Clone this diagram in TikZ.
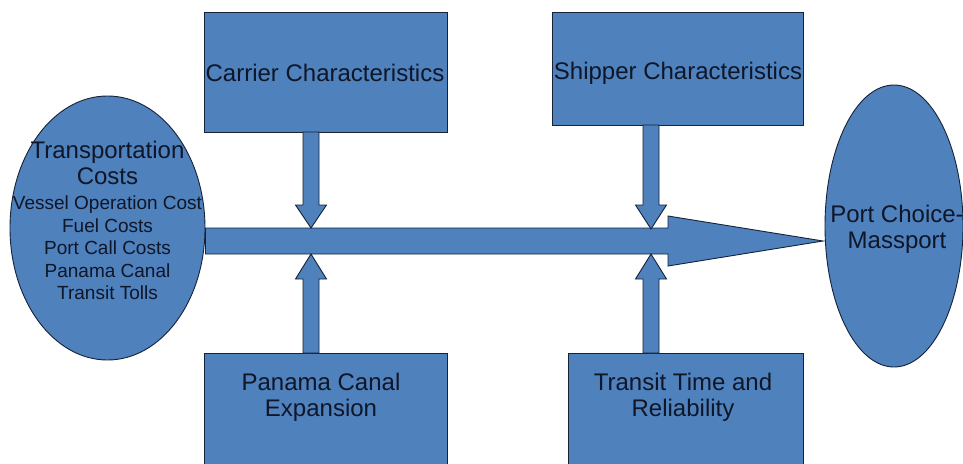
\documentclass[tikz,border=0pt]{standalone}
\usepackage{fontspec}
\setmainfont{Liberation Sans}
\usetikzlibrary{shapes.geometric,calc}
\definecolor{shapefill}{RGB}{79,129,189}
\definecolor{shapeline}{RGB}{22,34,56}
\definecolor{labeltext}{RGB}{14,22,40}
\tikzset{
  shapebase/.style={draw=shapeline, fill=shapefill, line width=0.9pt},
  boxnode/.style={shapebase, rectangle, inner sep=0pt},
  ellnode/.style={shapebase, ellipse, inner sep=0pt},
  bigtext/.style={text=labeltext, align=center, inner sep=0pt, font=\fontsize{24}{26}\selectfont},
  smalltext/.style={text=labeltext, align=center, inner sep=0pt, font=\fontsize{19}{22.5}\selectfont},
  blockarrow/.style={shapebase, line join=miter}
}
% vertical block arrow: x centre, start y, tip y, head length (signed)
\newcommand\myvarrow[4]{%
  \draw[blockarrow] (#1-8,#2) -- (#1-8,#3-#4) -- (#1-15.5,#3-#4) -- (#1,#3)
    -- (#1+15.5,#3-#4) -- (#1+8,#3-#4) -- (#1+8,#2) -- cycle;}
\begin{document}
\begin{tikzpicture}[x=1pt,y=-1pt]
\useasboundingbox (0,0) rectangle (963,463);
\clip (0,0) rectangle (963,463);
\fill[white] (0,0) rectangle (963,463);

% nodes
\node[ellnode, minimum width=195pt, minimum height=264pt] (lc) at (107.5,228) {};
\node[ellnode, minimum width=138pt, minimum height=282pt] (rc) at (894,226) {};
\node[boxnode, minimum width=243pt, minimum height=120pt] (carrier) at (325.5,72) {};
\node[boxnode, minimum width=251pt, minimum height=113pt] (shipper) at (677.5,68.5) {};
\node[boxnode, minimum width=243pt, minimum height=137pt] (panama) at (325.5,421.5) {};
\node[boxnode, minimum width=235pt, minimum height=137pt] (transit) at (685.5,421.5) {};

% main block arrow
\coordinate (tail) at (lc.east |- 0,241);
\coordinate (tip) at (823,241);
\draw[blockarrow] ($(tail)+(0,-13)$) -- (668,228) -- (668,216) -- (tip)
  -- (668,266) -- (668,254) -- ($(tail)+(0,13)$) -- cycle;

% vertical arrows
\myvarrow{311}{132}{228}{23}
\myvarrow{651}{125}{229}{24}
\myvarrow{311}{353}{254}{-25}
\myvarrow{651}{353}{254}{-25}

% texts
\node[bigtext] (lcT1) at (107.5,163) {Transportation\\Costs};
\node[smalltext] (lcT2) at (107.5,248) {Vessel Operation Cost\\Fuel Costs\\Port Call Costs\\Panama Canal\\Transit Tolls};
\node[bigtext] (carrierT) at (325,73) {Carrier Characteristics};
\node[bigtext] (shipperT) at (678,73) {Shipper Characteristics};
\node[bigtext] (panamaT) at (321,397) {Panama Canal\\Expansion};
\node[bigtext] (transitT) at (683,397) {Transit Time and\\Reliability};
\node[bigtext] (rcT) at (897,229) {Port Choice-\\Massport};
\end{tikzpicture}
\end{document}
